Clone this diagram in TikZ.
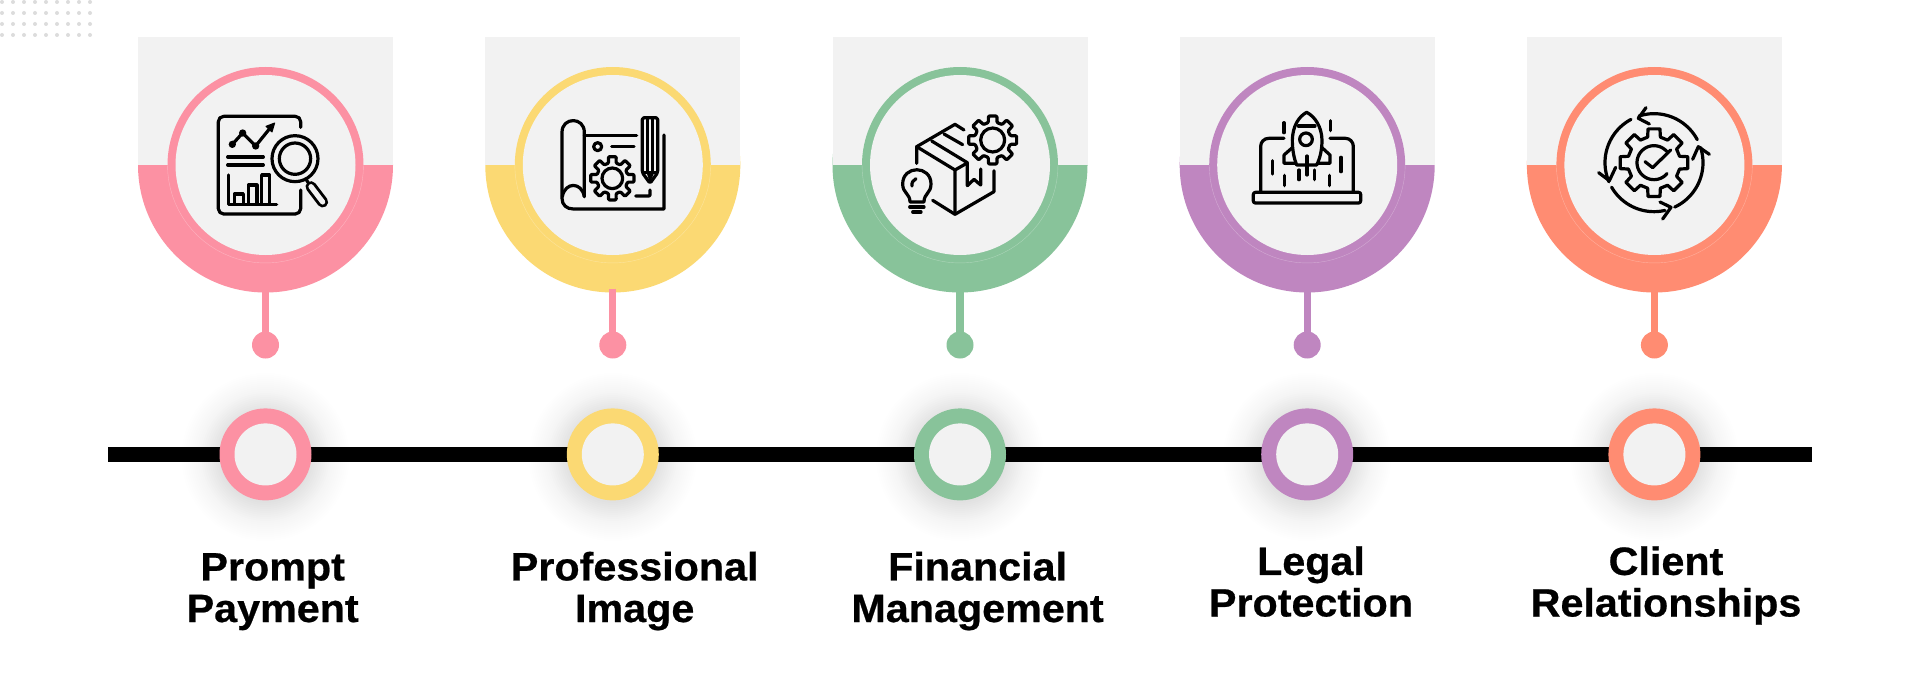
\documentclass[tikz,border=0pt]{standalone}
\usepackage{fontspec}
\setmainfont{Liberation Sans}
\newfontfamily\labfont[BoldFeatures={FakeStretch=1.045,FakeBold=0.6}]{Liberation Sans}
\usetikzlibrary{calc}
\definecolor{cpink}{HTML}{FC91A3}
\definecolor{cyellow}{HTML}{FBD973}
\definecolor{cgreen}{HTML}{88C39A}
\definecolor{cpurple}{HTML}{BF86C0}
\definecolor{ccoral}{HTML}{FF8C72}
\definecolor{pale}{HTML}{F2F2F2}
\definecolor{dotgray}{HTML}{DCDCDC}
\tikzset{
  iconline/.style={draw=black,line width=3.2pt,line cap=round,line join=round},
  iconfill/.style={fill=black,draw=black,line width=1pt,line join=round},
  disc/.style={circle,inner sep=0pt,outer sep=0pt,minimum size=#1},
  lab/.style={font=\labfont\bfseries\fontsize{39.5}{41.6}\selectfont,align=center,anchor=base,inner sep=0pt,text=black},
  zoomed/.style={x=0.33333pt,y=-0.33333pt}
}
\newcommand{\gearicon}[5]{% cx cy rout rin extra
  \draw[iconline,#5] ({#1+#4*cos(-14)},{#2+#4*sin(-14)})
    \foreach \k [evaluate=\k as \a using \k*45] in {0,...,7} {
      -- ({#1+#4*cos(\a-14)},{#2+#4*sin(\a-14)})
      -- ({#1+#3*cos(\a-10)},{#2+#3*sin(\a-10)})
      -- ({#1+#3*cos(\a+10)},{#2+#3*sin(\a+10)})
      -- ({#1+#4*cos(\a+14)},{#2+#4*sin(\a+14)})
    } -- cycle;}
\begin{document}
\begin{tikzpicture}[x=1pt,y=-1pt]
\useasboundingbox (0,0) rectangle (1920,677);
\fill[white] (0,0) rectangle (1920,677);
% dot pattern
\foreach \px in {2,13,...,90} \foreach \py in {2,13,24,35}
  \fill[dotgray] (\px,\py) circle [radius=2];
% shadows
\foreach \cx in {265.5,612.8,960,1307.2,1654.4}
  \foreach \rr in {96,94,...,46}
    \fill[black,opacity={0.0095*(96-\rr)/50}] (\cx,457) circle [radius=\rr];
% timeline
\coordinate (tl) at (108,454.4);
\coordinate (tr) at (1812,454.4);
\draw[black,line width=15.6pt] (tl) -- (tr);
% columns
\foreach \i/\cx/\col/\stemcol in {1/265.5/cpink/cpink,2/612.8/cyellow/cpink,3/960/cgreen/cgreen,4/1307.2/cpurple/cpurple,5/1654.4/ccoral/ccoral}{
  \node[disc=255pt,fill=\col] (big\i) at (\cx,165) {};
  \fill[pale] (\cx-127.5,37) rectangle (\cx+127.5,165);
  \node[disc=196pt,fill=\col] (ring\i) at (\cx,165) {};
  \draw[white,opacity=.3,line width=.4pt] plot[domain=0:180,samples=40] ({\cx+98*cos(\x)},{165+98*sin(\x)});
  \node[disc=180pt,fill=pale] (face\i) at (\cx,165) {};
  \node[disc=27pt,fill=\stemcol] (dot\i) at (\cx,345) {};
  \draw[\stemcol,line width=7.2pt] ([yshift=3.8pt]big\i.south) -- (dot\i.center);
  \node[disc=92pt,fill=\col] (hub\i) at (\cx,454.4) {};
  \node[disc=62pt,fill=pale] (hubin\i) at (\cx,454.4) {};
}
% labels
\node[lab] (lab1) at (272.7,622) {Prompt\\Payment};
\node[lab] (lab2) at (634.7,622) {Professional\\Image};
\node[lab] (lab3) at (977.6,622) {Financial\\Management};
\node[lab] (lab4) at (1311,616.5) {Legal\\Protection};
\node[lab] (lab5) at (1666,616.5) {Client\\Relationships};
% icon 1
\begin{scope}[shift={(0,0)},zoomed]
  \draw[iconline,rounded corners=5.3pt] (902,382)--(902,349)--(655,349)--(655,642)--(902,642)--(902,570);
  \draw[iconline] (697,433)--(728,399)--(767,438)--(812,382);
  \fill[black] (697,433) circle [radius=11] (728,399) circle [radius=11] (767,438) circle [radius=11];
  \fill[iconfill] (824,369)--(798,379)--(816,396)--cycle;
  \draw[iconline] (683,471)--(790,471) (683,495)--(790,495);
  \draw[iconline] (685,525)--(685,613)--(830,613);
  \draw[iconline] (703,613)--(703,582)--(730,582)--(730,613);
  \draw[iconline] (745,613)--(745,555)--(771,555)--(771,613);
  \draw[iconline] (785,613)--(785,525)--(809,525)--(809,613);
  \draw[iconline] (885,476) circle [radius=69];
  \draw[iconline] (885,476) circle [radius=47];
  \draw[iconline] (918,538)--(930,556);
  \draw[black,line width=11pt,line cap=round] (933,560)--(968,606);
  \draw[pale,line width=5.2pt,line cap=round] (933,560)--(968,606);
\end{scope}
% icon 2
\begin{scope}[shift={(470,20)},zoomed]
  \draw[iconline] (343,530)--(343,337) .. controls (343,290) and (276,290) .. (276,337)
     --(276,535) .. controls (276,555) and (290,567) .. (310,567) --(582,567)--(582,345);
  \draw[iconline] (277,530) .. controls (285,485) and (335,485) .. (343,530);
  \draw[iconline] (343,347)--(500,347);
  \draw[iconline] (383,380) circle [radius=12];
  \draw[iconline] (425,380)--(492,380);
  \gearicon{427}{475}{66}{47}{rounded corners=1pt}
  \draw[iconline] (427,475) circle [radius=31];
  \draw[iconline,rounded corners=1.7pt] (517,458)--(517,293)--(563,293)--(563,458)--(540,490)--cycle;
  \draw[iconline,line width=2.4pt] (533,297)--(533,455) (548,297)--(548,455) (517,458)--(563,458);
  \fill[black] (531,462)--(551,462)--(540,488)--cycle;
  \draw[iconline,rounded corners=1pt] (497,528)--(540,528)--(540,510);
\end{scope}
% icon 3
\begin{scope}[shift={(820,20)},zoomed]
  \draw[iconline] (290,430)--(290,380)--(405,313)--(432,330);
  \draw[iconline] (290,380)--(405,450)--(405,583);
  \draw[iconline] (338,541)--(405,583)--(522,515)--(522,452);
  \draw[iconline] (405,450)--(440,430);
  \draw[iconline] (372,342)--(428,374);
  \draw[iconline] (335,363)--(442,428)--(442,497)--(462,478)--(482,495)--(482,447);
  \gearicon{518}{360}{73}{54}{rounded corners=1pt}
  \draw[iconline] (518,360) circle [radius=36];
  \draw[iconline] (270,546) .. controls (270,520) and (248,520) .. (248,492)
     .. controls (248,435) and (333,435) .. (333,492)
     .. controls (333,520) and (312,520) .. (312,546) -- cycle;
  \draw[iconline] (269,561)--(312,561) (278,576)--(303,576);
  \draw[iconline] (276,498) .. controls (274,488) and (280,480) .. (288,476);
\end{scope}
% icon 4
\begin{scope}[shift={(1170,20)},zoomed]
  \draw[iconline,rounded corners=2pt] (250,517)--(572,517)--(572,549)--(250,549)--cycle;
  \draw[iconline,rounded corners=8pt] (272,517)--(272,355)--(342,355);
  \draw[iconline,rounded corners=8pt] (480,355)--(550,355)--(550,517);
  \draw[iconline] (410,277) .. controls (385,290) and (368,320) .. (367,360)
     .. controls (367,390) and (372,415) .. (380,435) -- (440,435)
     .. controls (450,415) and (456,390) .. (456,360)
     .. controls (455,320) and (435,290) .. (410,277) -- cycle;
  \draw[iconline] (385,318)--(435,318);
  \draw[iconline] (408,358) circle [radius=19];
  \draw[iconline] (367,383)--(342,405)--(342,430)--(378,430);
  \draw[iconline] (456,383)--(480,405)--(480,430)--(442,430);
  \draw[iconline] (342,308)--(342,338) (481,302)--(481,332) (308,422)--(308,462) (513,412)--(513,455) (344,466)--(344,497) (479,466)--(479,497) (387,450)--(387,479) (411,408)--(411,465) (434,450)--(434,479);
\end{scope}
% icon 5
\begin{scope}[shift={(1510,20)},zoomed]
  \gearicon{432}{428}{103}{79}{}
  \draw[iconline] plot[domain=-28:-108,samples=30] ({432+147*cos(\x)},{428+147*sin(\x)});
  \draw[iconline] (408,263)--(385,295)--(418,312);
  \draw[iconline] plot[domain=-118:-203,samples=30] ({432+147*cos(\x)},{428+147*sin(\x)});
  \draw[iconline] (266,458)--(298,482)--(317,442);
  \draw[iconline] plot[domain=-210:-283,samples=30] ({432+147*cos(\x)},{428+147*sin(\x)});
  \draw[iconline] (458,597)--(483,562)--(450,546);
  \draw[iconline] plot[domain=-295:-378,samples=30] ({432+147*cos(\x)},{428+147*sin(\x)});
  \draw[iconline] (598,403)--(565,380)--(548,418);
  \draw[iconline] plot[domain=-42:-320,samples=40] ({432+51*cos(\x)},{428+51*sin(\x)});
  \draw[iconline] (405,425)--(428,443)--(482,390);
\end{scope}
\end{tikzpicture}
\end{document}
